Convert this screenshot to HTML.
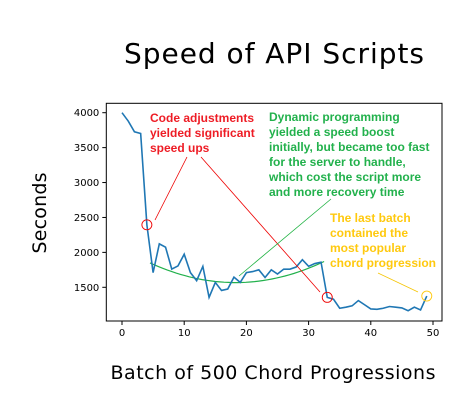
<!DOCTYPE html>
<html><head><meta charset="utf-8"><style>
html,body{margin:0;padding:0;background:#fff;}
svg{display:block;font-family:"DejaVu Sans","Liberation Sans",sans-serif;}
.ann{font-family:"Liberation Sans",sans-serif;font-weight:bold;font-size:12px;}
</style></head><body>
<svg id="chart" width="473" height="412" viewBox="0 0 473 412">
<text x="274" y="63" text-anchor="middle" font-size="28" textLength="300">Speed of API Scripts</text>
<text transform="translate(46,213) rotate(-90)" text-anchor="middle" font-size="19" textLength="81">Seconds</text>
<text x="273" y="379" text-anchor="middle" font-size="19" textLength="325">Batch of 500 Chord Progressions</text>
<g id="axes"></g>
<g id="series"></g>
<g id="annotations">
<line x1="155" y1="220" x2="187" y2="157" stroke="#e00" stroke-width="0.8"/>
<line x1="201" y1="157" x2="320" y2="292" stroke="#e00" stroke-width="0.8"/>
<line x1="239" y1="276" x2="331" y2="199" stroke="#1db240" stroke-width="0.8"/>
<line x1="378" y1="273" x2="418" y2="292" stroke="#f5c400" stroke-width="0.8"/>
<text class="ann" fill="#ee1c25"><tspan x="150" y="122">Code adjustments</tspan><tspan x="150" y="137">yielded significant</tspan><tspan x="150" y="152">speed ups</tspan></text>
<text class="ann" fill="#22b14c"><tspan x="269" y="121">Dynamic programming</tspan><tspan x="269" y="136">yielded a speed boost</tspan><tspan x="269" y="151">initially, but became too fast</tspan><tspan x="269" y="166">for the server to handle,</tspan><tspan x="269" y="181">which cost the script more</tspan><tspan x="269" y="196">and more recovery time</tspan></text>
<text class="ann" fill="#ffc90e"><tspan x="330" y="222">The last batch</tspan><tspan x="330" y="237">contained the</tspan><tspan x="330" y="252">most popular</tspan><tspan x="330" y="267">chord progression</tspan></text>
</g>
</svg>
<script>
const batches=[0,1,2,3,4,5,6,7,8,9,10,11,12,13,14,15,16,17,18,19,20,21,22,23,24,25,26,27,28,29,30,31,32,33,34,35,36,37,38,39,40,41,42,43,44,45,46,47,48,49];
const seconds=[4000,3880,3727,3703,2395,1710,2122,2075,1760,1806,1974,1710,1595,1800,1356,1570,1455,1475,1645,1570,1710,1725,1750,1640,1750,1690,1760,1760,1790,1895,1800,1840,1860,1356,1330,1200,1215,1235,1310,1250,1190,1185,1200,1225,1215,1205,1165,1215,1175,1375];
const xTicks=[0,10,20,30,40,50];
const yTicks=[1500,2000,2500,3000,3500,4000];
const trendX=[4.5,17,32.5];
const trendY=[1850,1570,1870];
const circleBatches=[4,33];
const highlightBatch=[49];
const NS="http://www.w3.org/2000/svg";
const L=106.3,R=442,T=103.3,B=321;
const xs=v=>122+v*(433-122)/50;
const ys=v=>112.7+(4000-v)*(287.3-112.7)/2500;
function mk(tag,attrs,parent){const e=document.createElementNS(NS,tag);for(const k in attrs)e.setAttribute(k,attrs[k]);parent.appendChild(e);return e;}
const ax=document.getElementById('axes'),sr=document.getElementById('series');
const frame=mk('rect',{x:L,y:T,width:R-L,height:B-T,fill:'none',stroke:'#000','stroke-width':1},ax);


xTicks.forEach(t=>{
 const l=mk('line',{x1:xs(t),x2:xs(t),y1:B,y2:B+4,stroke:'#000'},ax);
 
 
 const tx=mk('text',{x:xs(t),y:B+15,'text-anchor':'middle','font-size':10},ax);tx.textContent=t;
 
 
});
yTicks.forEach(t=>{
 const l=mk('line',{x1:L-4,x2:L,y1:ys(t),y2:ys(t),stroke:'#000'},ax);
 
 
 const tx=mk('text',{x:L-7,y:ys(t)+3.5,'text-anchor':'end','font-size':10},ax);tx.textContent=t;
 
 
});
// trend quadratic through 3 points (Lagrange)
function quad(x){let s=0;for(let i=0;i<3;i++){let p=trendY[i];for(let j=0;j<3;j++)if(j!==i)p*=(x-trendX[j])/(trendX[i]-trendX[j]);s+=p;}return s;}
let tp=[];for(let i=0;i<=40;i++){const x=trendX[0]+(trendX[2]-trendX[0])*i/40;tp.push(xs(x).toFixed(1)+','+ys(quad(x)).toFixed(1));}
const trend=mk('polyline',{points:tp.join(' '),fill:'none',stroke:'#22b14c','stroke-width':1.2},sr);


const line=mk('polyline',{points:batches.map((b,i)=>xs(b)+','+ys(seconds[i])).join(' '),fill:'none',stroke:'#1f77b4','stroke-width':1.6},sr);


circleBatches.forEach(b=>{
 const c=mk('circle',{cx:xs(b),cy:ys(seconds[b]),r:5,fill:'none',stroke:'#e00','stroke-width':0.9},sr);
 
 
});
highlightBatch.forEach(b=>{
 const c=mk('circle',{cx:xs(b),cy:ys(seconds[b]),r:5,fill:'none',stroke:'#ffc90e','stroke-width':0.9},sr);
 
 
});
</script>
</body></html>
